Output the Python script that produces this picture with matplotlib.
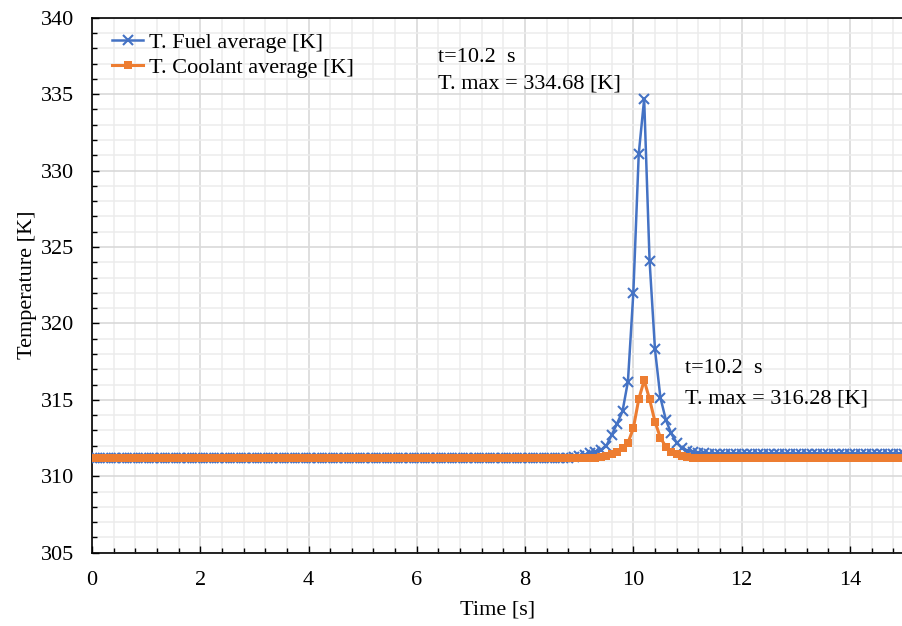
import numpy as np
import matplotlib
matplotlib.use("Agg")
from matplotlib import pyplot as plt
from matplotlib.ticker import MultipleLocator

# sample times, 0.0 .. 15.0 s every 0.1 s
time_s = np.round(np.arange(151) * 0.1, 1)

fuel_avg = [
    311.2, 311.2, 311.2, 311.2, 311.2, 311.2, 311.2, 311.2, 311.2, 311.2,
    311.2, 311.2, 311.2, 311.2, 311.2, 311.2, 311.2, 311.2, 311.2, 311.2,
    311.2, 311.2, 311.2, 311.2, 311.2, 311.2, 311.2, 311.2, 311.2, 311.2,
    311.2, 311.2, 311.2, 311.2, 311.2, 311.2, 311.2, 311.2, 311.2, 311.2,
    311.2, 311.2, 311.2, 311.2, 311.2, 311.2, 311.2, 311.2, 311.2, 311.2,
    311.2, 311.2, 311.2, 311.2, 311.2, 311.2, 311.2, 311.2, 311.2, 311.2,
    311.2, 311.2, 311.2, 311.2, 311.2, 311.2, 311.2, 311.2, 311.2, 311.2,
    311.2, 311.2, 311.2, 311.2, 311.2, 311.2, 311.2, 311.2, 311.2, 311.2,
    311.2, 311.2, 311.2, 311.2, 311.2, 311.2, 311.2, 311.2, 311.22, 311.26,
    311.32, 311.4, 311.5, 311.61, 311.72, 311.98, 312.7, 313.45, 314.25, 316.2,
    322.0, 331.1, 334.68, 324.1, 318.3, 315.15, 313.7, 312.8, 312.2, 311.85,
    311.68, 311.58, 311.53, 311.5, 311.48, 311.48, 311.48, 311.48, 311.48, 311.48,
    311.46, 311.46, 311.46, 311.46, 311.46, 311.46, 311.46, 311.46, 311.46, 311.46,
    311.46, 311.46, 311.46, 311.46, 311.46, 311.46, 311.46, 311.46, 311.46, 311.46,
    311.46, 311.46, 311.46, 311.46, 311.46, 311.46, 311.46, 311.46, 311.46, 311.46,
    311.46,
]

coolant_avg = [
    311.2, 311.2, 311.2, 311.2, 311.2, 311.2, 311.2, 311.2, 311.2, 311.2,
    311.2, 311.2, 311.2, 311.2, 311.2, 311.2, 311.2, 311.2, 311.2, 311.2,
    311.2, 311.2, 311.2, 311.2, 311.2, 311.2, 311.2, 311.2, 311.2, 311.2,
    311.2, 311.2, 311.2, 311.2, 311.2, 311.2, 311.2, 311.2, 311.2, 311.2,
    311.2, 311.2, 311.2, 311.2, 311.2, 311.2, 311.2, 311.2, 311.2, 311.2,
    311.2, 311.2, 311.2, 311.2, 311.2, 311.2, 311.2, 311.2, 311.2, 311.2,
    311.2, 311.2, 311.2, 311.2, 311.2, 311.2, 311.2, 311.2, 311.2, 311.2,
    311.2, 311.2, 311.2, 311.2, 311.2, 311.2, 311.2, 311.2, 311.2, 311.2,
    311.2, 311.2, 311.2, 311.2, 311.2, 311.2, 311.2, 311.2, 311.2, 311.2,
    311.2, 311.2, 311.21, 311.22, 311.24, 311.33, 311.46, 311.61, 311.83, 312.18,
    313.14, 315.04, 316.28, 315.04, 313.57, 312.52, 311.94, 311.61, 311.44, 311.3,
    311.24, 311.21, 311.2, 311.2, 311.2, 311.2, 311.2, 311.2, 311.2, 311.2,
    311.2, 311.2, 311.2, 311.2, 311.2, 311.2, 311.2, 311.2, 311.2, 311.2,
    311.2, 311.2, 311.2, 311.2, 311.2, 311.2, 311.2, 311.2, 311.2, 311.2,
    311.2, 311.2, 311.2, 311.2, 311.2, 311.2, 311.2, 311.2, 311.2, 311.2,
    311.2,
]

series_labels = ["T. Fuel average [K]", "T. Coolant average [K]"]

BLUE = "#4472C4"
ORANGE = "#ED7D31"
FS = 16

plt.rcParams["font.family"] = ["Liberation Serif", "DejaVu Serif"]
plt.rcParams["font.size"] = FS

fig = plt.figure(figsize=(9.03, 6.26), dpi=100)
ax = fig.add_axes([92 / 903, (626 - 552.7) / 626, 812 / 903, (552.7 - 17.7) / 626])

ax.plot(time_s, fuel_avg, color=BLUE, lw=1.8, marker="x", ms=6.5, mew=1.5,
        label=series_labels[0], zorder=3)
ax.plot(time_s, coolant_avg, color=ORANGE, lw=2.2, marker="s", ms=6.3, mew=0,
        label=series_labels[1], zorder=4)

ax.set_xlim(0, 15)
ax.set_ylim(305, 340)
ax.xaxis.set_major_locator(MultipleLocator(2))
ax.xaxis.set_minor_locator(MultipleLocator(0.4))
ax.yaxis.set_major_locator(MultipleLocator(5))
ax.yaxis.set_minor_locator(MultipleLocator(1))

ax.grid(which="major", color="#d9d9d9", lw=1.2, zorder=0)
ax.grid(which="minor", color="#ececec", lw=1.1, zorder=0)
ax.set_axisbelow(True)

ax.tick_params(which="both", direction="in", color="black", width=1,
               labelsize=FS, pad=13)
ax.tick_params(which="major", length=5)
ax.tick_params(which="minor", length=3.5)

ax.spines["right"].set_visible(False)
for s in ["left", "bottom", "top"]:
    ax.spines[s].set_color("black")
    ax.spines[s].set_linewidth(1.2)

ax.set_xlabel("Time [s]", fontsize=FS, labelpad=8)
ax.set_ylabel("Temperature [K]", fontsize=FS, labelpad=3)

leg = ax.legend(loc="upper left", bbox_to_anchor=(0.025, 0.972), frameon=False,
                handlelength=1.4, handletextpad=0.25, labelspacing=0.2,
                borderpad=0, borderaxespad=0, fontsize=FS)

i_f = int(np.argmax(fuel_avg))
i_c = int(np.argmax(coolant_avg))
ax.text(6.39, 337.07, "t=%.1f  s" % time_s[i_f], fontsize=FS, va="baseline")
ax.text(6.39, 335.39, "T. max = %.2f [K]" % fuel_avg[i_f], fontsize=FS, va="baseline")
ax.text(10.95, 316.74, "t=%.1f  s" % time_s[i_c], fontsize=FS, va="baseline")
ax.text(10.95, 314.78, "T. max = %.2f [K]" % coolant_avg[i_c], fontsize=FS, va="baseline")

fig.savefig("out.png", dpi=100)
